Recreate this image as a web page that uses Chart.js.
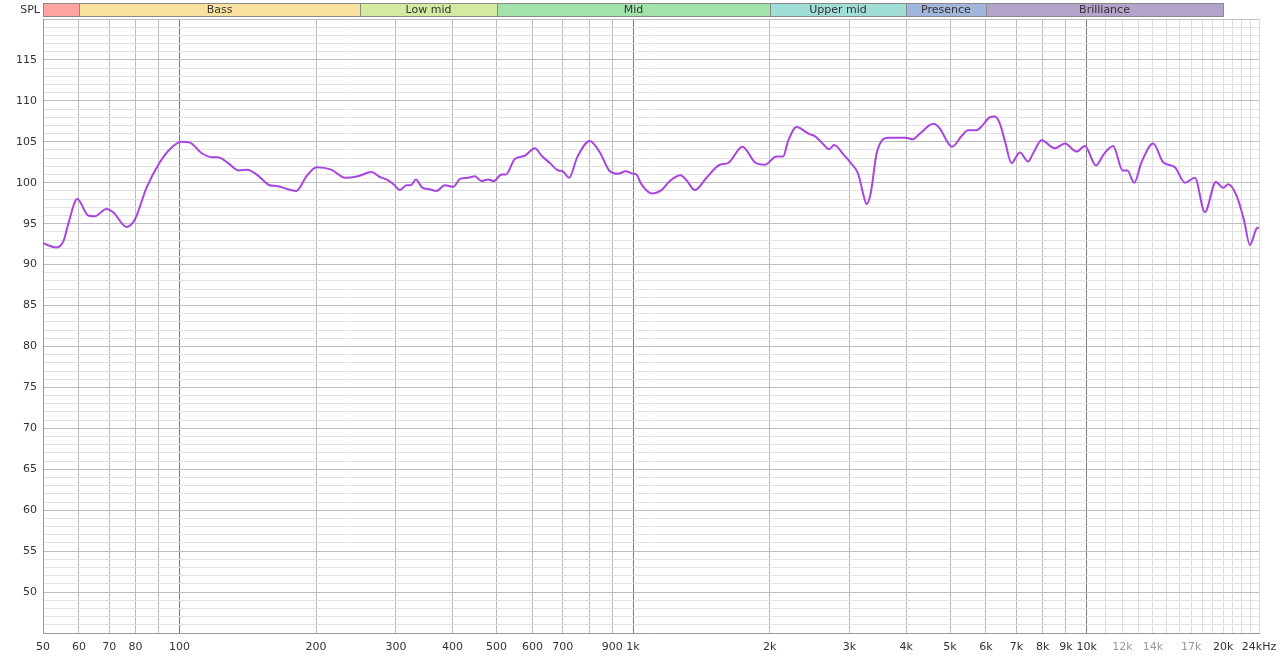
<!DOCTYPE html>
<html>
<head>
<meta charset="utf-8">
<script src="https://cdn.jsdelivr.net/npm/chart.js@4/dist/chart.umd.min.js"></script>
<style>
html,body{margin:0;padding:0;background:#fff;}
#wrap{width:1280px;height:659px;position:relative;}
</style>
</head>
<body>
<div id="wrap"><canvas id="c" width="1280" height="659"></canvas></div>
<script>
// ---- data ----
const freqs = [50,53.5,55.5,56.8,59.5,62.9,65,69,71.4,76.4,79.7,84.6,90.5,95.2,101,105.4,112,118.6,121.5,128,135,141,148,158,163.6,181,190.6,200.5,216,232,247.6,265,276.5,286,298,306,316.5,324,332,343,356,368.6,384.5,401,416.5,433,448,463,479,493,513,524,548.6,577,607.5,628.6,655.6,683.6,700,723,753,803,845,885.7,927,964,1000,1017,1044,1098.5,1155.6,1205.5,1272.7,1312,1368.6,1452,1554,1620,1743,1856,1952.5,2072,2143,2198,2293,2454,2517,2617,2706,2776,2906,3032,3136,3206,3272,3339,3442,3531,3651,3841,4000,4133,4290,4590,4683,4750,5050,5302,5480,5720,5850,6120,6279,6443,6606,6831,7125,7433,7610,7957,8511,8957,9507,9914,10485,10917,11447,12010,12300,12736,13220,14024,14755,15660,16474,17330,18234,19280,20012,20531,21424,22227,22915,23711,24000];
const spl = [92.6,92.1,92.9,94.9,98.0,96.0,95.9,96.8,96.4,94.6,95.5,99.4,102.5,104.1,105.0,104.9,103.6,103.1,103.1,102.4,101.5,101.6,101.0,99.7,99.6,99.0,100.8,101.9,101.6,100.6,100.8,101.3,100.7,100.4,99.7,99.1,99.7,99.7,100.4,99.4,99.2,99.0,99.7,99.5,100.5,100.6,100.8,100.2,100.4,100.2,101.0,101.0,102.9,103.3,104.2,103.3,102.4,101.5,101.4,100.6,103.1,105.1,103.7,101.5,101.1,101.4,101.1,101.0,99.8,98.7,99.1,100.2,100.9,100.3,99.1,100.6,102.2,102.4,104.4,102.5,102.2,103.2,103.2,105.1,106.8,105.9,105.7,104.8,104.1,104.6,103.5,102.3,101.1,99.0,97.4,98.6,103.5,105.1,105.5,105.5,105.5,105.3,106.0,107.2,107.0,106.6,104.4,105.7,106.4,106.4,106.8,108.0,108.1,107.2,105.1,102.4,103.7,102.6,103.5,105.2,104.2,104.8,103.8,104.5,102.1,103.5,104.5,101.5,101.5,100.0,102.5,104.8,102.5,101.9,100.0,100.6,96.4,100.1,99.4,99.8,98.4,95.5,92.4,94.4,94.5];

const xGridValues = [50,60,70,80,90,100,200,300,400,500,600,700,800,900,1000,2000,3000,4000,5000,6000,7000,8000,9000,10000,11000,12000,13000,14000,15000,16000,17000,18000,19000,20000,21000,22000,23000,24000];
const xLabelValues = [50,60,70,80,100,200,300,400,500,600,700,900,1000,2000,3000,4000,5000,6000,7000,8000,9000,10000,12000,14000,17000,20000,24000];
const xLabelTexts = ['50','60','70','80','100','200','300','400','500','600','700','900','1k','2k','3k','4k','5k','6k','7k','8k','9k','10k','12k','14k','17k','20k','24kHz'];
const fadedLabels = [12000,14000,17000];

const bandNames = ['', 'Bass', 'Low mid', 'Mid', 'Upper mid', 'Presence', 'Brilliance'];
const bandStart = [50, 60, 250, 500, 2000, 4000, 6000];
const bandEnd = [60, 250, 500, 2000, 4000, 6000, 20000];
const bandColors = ['#ffa3a3', '#f9e2a0', '#d4eaa0', '#a2e2ab', '#a2ded8', '#a2b6dc', '#b3a2c9'];

// ---- chart ----
Chart.defaults.font.family = 'DejaVu Sans';
Chart.defaults.font.size = 11;
Chart.defaults.color = '#333';

const bandPlugin = {
  id: 'bands',
  afterDraw(chart) {
    const ctx = chart.ctx;
    const x = chart.scales.x;
    const top = 3, h = 13;
    ctx.save();
    for (let i = 0; i < bandNames.length; i++) {
      const x0 = Math.round(x.getPixelForValue(bandStart[i]));
      const x1 = Math.round(x.getPixelForValue(bandEnd[i]));
      ctx.fillStyle = bandColors[i];
      ctx.fillRect(x0, top, x1 - x0, h);
      ctx.strokeStyle = '#8a8a8a';
      ctx.lineWidth = 1;
      ctx.strokeRect(x0 + 0.5, top + 0.5, x1 - x0, h);
      if (bandNames[i]) {
        ctx.fillStyle = '#333';
        ctx.font = '11px DejaVu Sans';
        ctx.textAlign = 'center';
        ctx.textBaseline = 'middle';
        ctx.fillText(bandNames[i], (x0 + x1) / 2, top + h / 2 + 0.5);
      }
    }
    ctx.fillStyle = '#333';
    ctx.font = '11px DejaVu Sans';
    ctx.textAlign = 'right';
    ctx.textBaseline = 'middle';
    ctx.fillText('SPL', 40, top + h / 2 + 0.5);
    ctx.restore();
  }
};

new Chart(document.getElementById('c'), {
  type: 'line',
  data: {
    datasets: [{
      data: freqs.map((f, i) => ({x: f, y: spl[i]})),
      borderColor: '#a845e0',
      borderWidth: 2,
      pointRadius: 0,
      cubicInterpolationMode: 'monotone',
      fill: false
    }]
  },
  options: {
    responsive: false,
    animation: false,
    devicePixelRatio: 1,
    layout: {padding: {top: 19, right: 21, left: 0, bottom: 0}},
    plugins: {legend: {display: false}, tooltip: {enabled: false}},
    scales: {
      x: {
        type: 'logarithmic',
        min: 50,
        max: 24000,
        afterFit(s) { s.height = 26; s.paddingLeft = 0; s.paddingRight = 0; },
        afterBuildTicks(s) { s.ticks = xGridValues.map(v => ({value: v})); },
        grid: {
          drawTicks: false,
          color(ctx) {
            const v = ctx.tick && ctx.tick.value;
            if (v === 100 || v === 1000 || v === 10000) return '#7a7a7a';
            if (v > 10000) return '#dcdcdc';
            return '#bdbdbd';
          }
        },
        border: {color: '#999'},
        ticks: {
          autoSkip: false,
          maxRotation: 0,
          padding: 8,
          color(ctx) {
            return fadedLabels.includes(ctx.tick.value) ? '#999' : '#333';
          },
          callback(v) {
            const i = xLabelValues.indexOf(v);
            return i >= 0 ? xLabelTexts[i] : '';
          }
        }
      },
      y: {
        min: 45,
        max: 120,
        afterFit(s) { s.width = 43; s.paddingTop = 0; s.paddingBottom = 0; },
        grid: {
          drawTicks: false,
          color(ctx) {
            const v = ctx.tick && ctx.tick.value;
            return (v % 5 === 0) ? '#bdbdbd' : '#e2e2e2';
          }
        },
        border: {color: '#999'},
        ticks: {
          stepSize: 1,
          autoSkip: false,
          padding: 6,
          callback(v) {
            return (v % 5 === 0 && v >= 50 && v <= 115) ? String(v) : '';
          }
        }
      }
    }
  },
  plugins: [bandPlugin]
});
</script>
</body>
</html>
